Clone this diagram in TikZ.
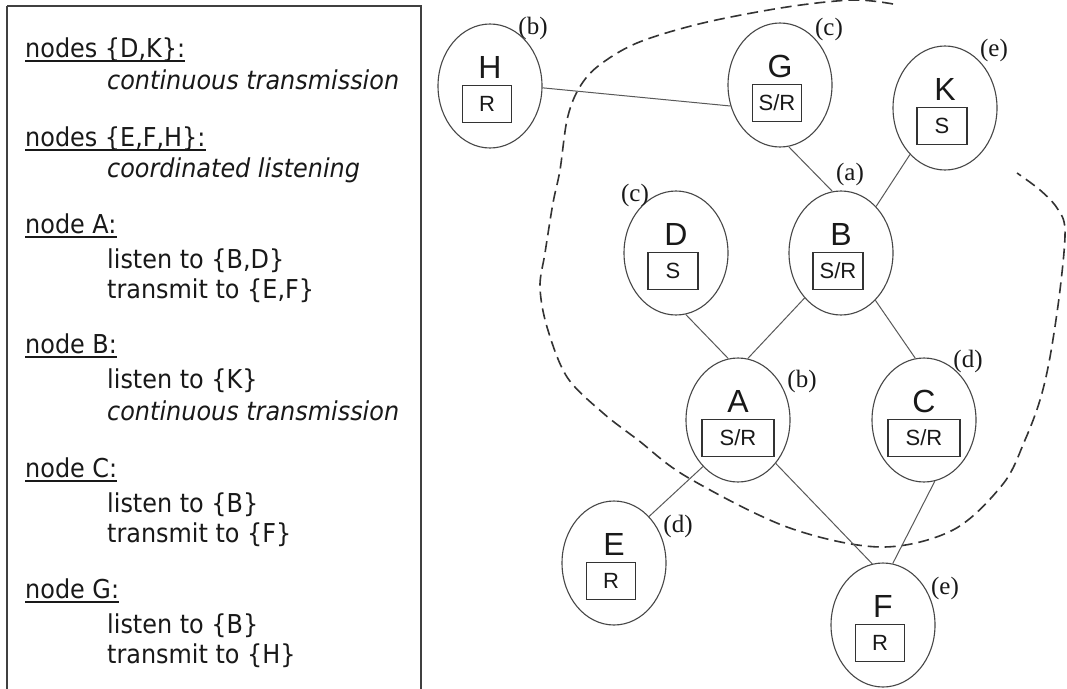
\documentclass[tikz,border=0pt]{standalone}
\usepackage{fontspec}
\setmainfont{Liberation Serif}
\newfontfamily\tahf[FakeStretch=0.92]{DejaVu Sans}
\newfontfamily\arialf{Liberation Sans}
\usetikzlibrary{shapes.geometric}
\newcommand\SR{S/R}
\newcommand\myul[1]{\setbox0\hbox{#1}\rlap{\rule[-4.5pt]{\wd0}{1.3pt}}\box0}
\tikzset{
  nd/.style={ellipse, draw=black!72, line width=1.1pt, minimum width=104pt, minimum height=124pt, inner sep=0pt},
  lett/.style={anchor=base, inner sep=0pt, text=black!90, font={\arialf\fontsize{32}{32}\selectfont}},
  bx/.style={draw=black!80, line width=1.1pt, minimum height=37pt, inner sep=0pt, text=black!90, font={\arialf\fontsize{22}{22}\selectfont}},
  lab/.style={inner sep=0pt, text=black!90, font={\fontsize{25}{25}\selectfont}},
  cn/.style={draw=black!65, line width=1pt},
  hd/.style={anchor=base west, inner sep=0pt, text=black!90, font={\tahf\fontsize{26}{26}\selectfont}},
  sub/.style={hd},
  frame/.style={draw=black!75, line width=1.3pt},
  region/.style={draw=black!80, line width=1.6pt, dash pattern=on 11pt off 6pt}
}
\begin{document}
\begin{tikzpicture}[x=1pt,y=-1pt]
\useasboundingbox (0,0) rectangle (1067,688);
\fill[white] (0,0) rectangle (1067,688);
% left panel
\draw[frame] (7,6) -- (7,700) (7,6) -- (421,6) -- (421,700);
\node[hd]  (t1)  at (25,57)  {\myul{nodes \{D,K\}:}};
\node[sub] (t2)  at (107,89) {\itshape continuous transmission};
\node[hd]  (t3)  at (25,146) {\myul{nodes \{E,F,H\}:}};
\node[sub] (t4)  at (107,177) {\itshape coordinated listening};
\node[hd]  (t5)  at (25,233) {\myul{node A:}};
\node[sub] (t6)  at (107,268) {listen to \{B,D\}};
\node[sub] (t7)  at (107,298) {transmit to \{E,F\}};
\node[hd]  (t8)  at (25,353) {\myul{node B:}};
\node[sub] (t9)  at (107,388) {listen to \{K\}};
\node[sub] (t10) at (107,420) {\itshape continuous transmission};
\node[hd]  (t11) at (25,477) {\myul{node C:}};
\node[sub] (t12) at (107,512) {listen to \{B\}};
\node[sub] (t13) at (107,542) {transmit to \{F\}};
\node[hd]  (t14) at (25,598) {\myul{node G:}};
\node[sub] (t15) at (107,633) {listen to \{B\}};
\node[sub] (t16) at (107,663) {transmit to \{H\}};
% region
\draw[region] plot[smooth, tension=0.55] coordinates {
  (893,4) (853,0) (787,7) (703,23) (637,43) (597,67) (578,90) (567,120)
  (560,170) (553,203) (545,253) (540,287) (547,327) (567,377) (603,413)
  (638,440) (687,477) (787,527) (880,547) (953,530) (1003,484) (1025,440)
  (1040,400) (1050,357) (1060,290) (1065,230) (1057,208) (1040,190) (1017,173)};
% graph nodes
\foreach \n/\x/\y/\t/\w/\s in {H/490/86/R/49/-3, G/780/85/\SR/49/-3, K/945/108/S/50/-3,
    D/676/253/S/50/-3, B/841/253/\SR/50/-3, A/738/420/\SR/72/0, C/924/420/\SR/72/0,
    E/614/563/R/49/-3, F/883/625/R/49/-3} {
  \node[nd] (\n) at (\x,\y) {};
  \node[lett] (\n-l) at (\x,\y-7.5) {\n};
  \node[bx, minimum width=\w pt] (\n-b) at (\x+\s,\y+18) {\t};
}
% labels
\node[lab] (lH) at (533,28) {(b)};
\node[lab] (lG) at (829,29) {(c)};
\node[lab] (lK) at (994,50) {(e)};
\node[lab] (lB) at (850,174) {(a)};
\node[lab] (lD) at (635,195) {(c)};
\node[lab] (lA) at (802,381) {(b)};
\node[lab] (lC) at (968,361) {(d)};
\node[lab] (lE) at (678,526) {(d)};
\node[lab] (lF) at (945,588) {(e)};
% connectors
\draw[cn] (H.358) -- (G.203);
\draw[cn] (G.278) -- (B.98);
\draw[cn] (K.233) -- (B.53);
\draw[cn] (D.279) -- (A.99);
\draw[cn] (B.231) -- (A.81);
\draw[cn] (B.306) -- (C.98);
\draw[cn] (A.233) -- (E.53);
\draw[cn] (A.311) -- (F.100);
\draw[cn] (C.280) -- (F.81);
\end{tikzpicture}
\end{document}
